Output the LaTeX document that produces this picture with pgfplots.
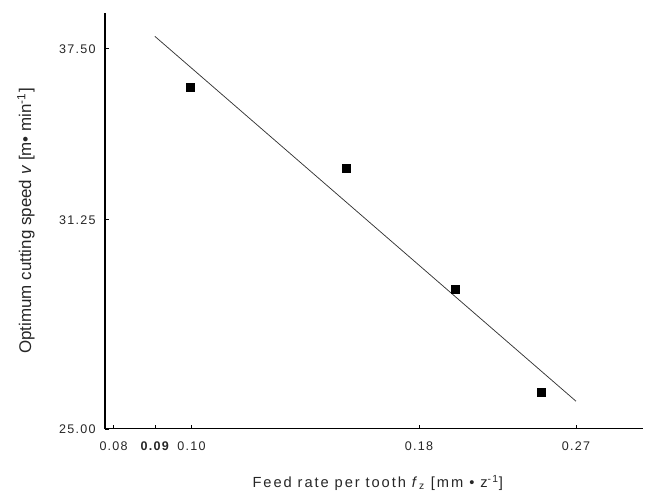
\documentclass[border=0pt]{standalone}
\usepackage{fontspec}
\setmainfont{Liberation Sans}
\newfontfamily\spaced[LetterSpace=10]{Liberation Sans}
\newfontfamily\spacedwide[LetterSpace=13]{Liberation Sans}
\usepackage{pgfplots}
\pgfplotsset{compat=1.18}
\usetikzlibrary{calc}

\begin{document}
\begin{tikzpicture}
\begin{axis}[
  name=ax,
  scale only axis,
  width=403.5pt, height=312pt,
  xmode=log, ymode=log,
  xmin=0.08, xmax=0.321,
  ymin=25, ymax=38.96,
  axis lines=left,
  axis line style={-, line width=0.8pt, black},
  xminorticks=false, yminorticks=false,
  xtick={0.0818,0.0911,0.1,0.18,0.27},
  xticklabels={0.08,\textbf{0.09},0.10,0.18,0.27},
  ytick={25,31.25,37.5},
  yticklabels={25.00,31.25,37.50},
  tick align=inside,
  major tick length=3pt,
  tick style={black, line width=0.6pt},
  ticklabel style={font=\spaced\fontsize{9.4}{11}\selectfont, text=black!85},
  xticklabel style={anchor=north, yshift=-6pt},
  yticklabel style={anchor=east, xshift=-3.5pt},
  xlabel={Feed rate per tooth \textit{f}\textsubscript{z} [mm \textbullet{} z\textsuperscript{-1}]},
  ylabel={Optimum cutting speed \textit{v} [m\textbullet{} min\textsuperscript{-1}]},
  xlabel style={at={(axis description cs:0.507,-0.1298)}, anchor=center,
                font=\spacedwide\fontsize{11}{13}\selectfont, text=black!85},
  ylabel style={at={(axis description cs:-0.1468,0.5)}, anchor=center,
                font=\fontsize{12.7}{15}\selectfont, text=black!85},
  clip=false,
]
% measured optimum speeds
\addplot[only marks, mark=square*, mark size=3pt, black]
  coordinates {(0.0997,36.0) (0.149,33.0) (0.1975,29.0) (0.247,26.0)};
% fitted power-law trend
\addplot[black!80, line width=0.55pt]
  coordinates {(0.091,38.0) (0.27,25.75)};
\end{axis}
\pgfresetboundingbox
\path[use as bounding box] ($(ax.south west)+(-78.75pt,-49.5pt)$)
  rectangle ($(ax.north east)+(1.5pt,9.75pt)$);
\end{tikzpicture}
\end{document}
